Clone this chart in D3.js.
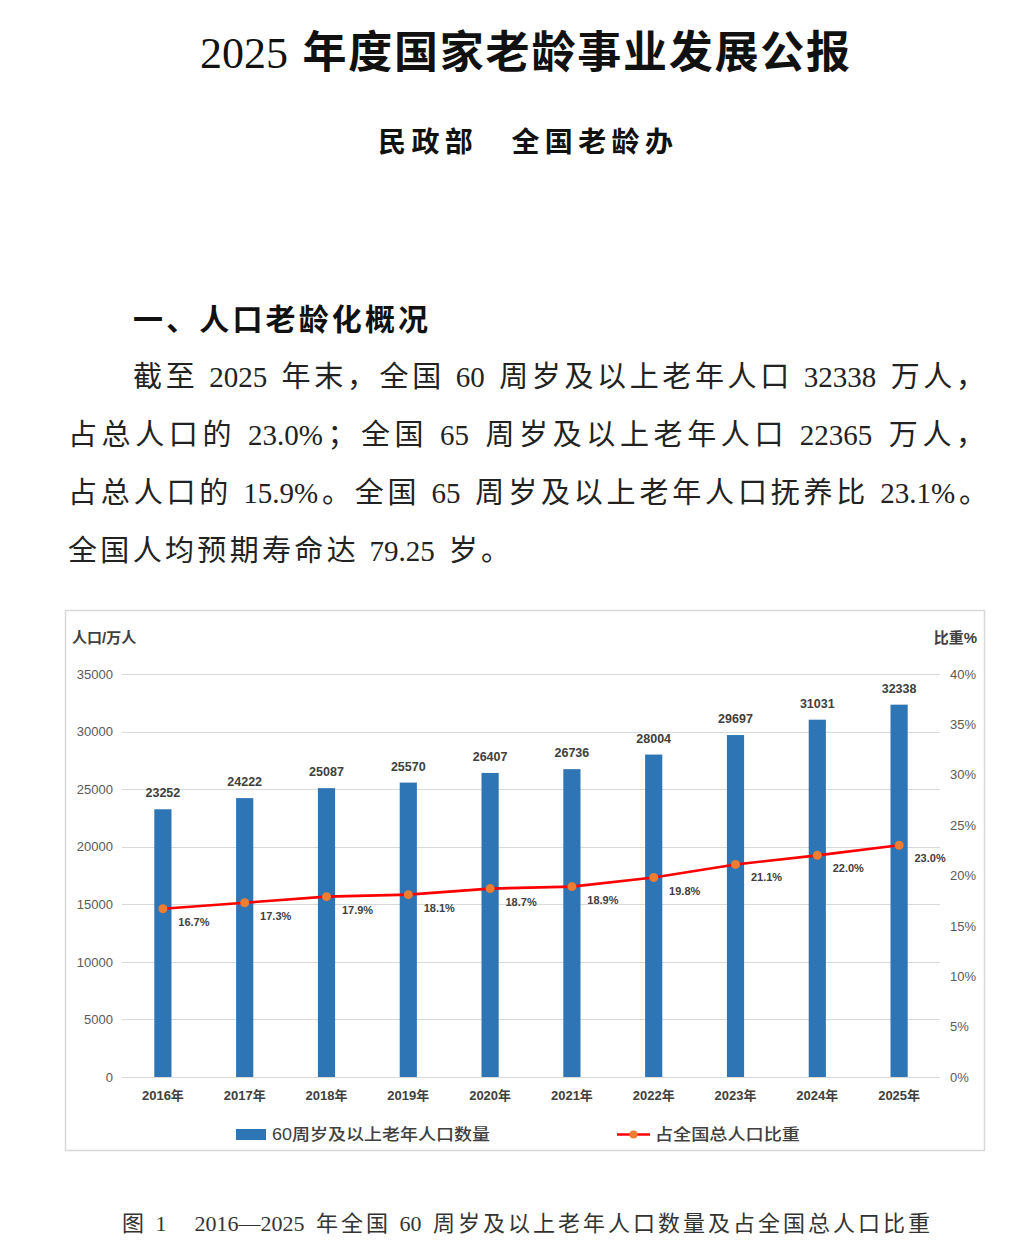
<!DOCTYPE html>
<html>
<head>
<meta charset="utf-8">
<script src="https://cdn.jsdelivr.net/npm/d3@7"></script>
<style>
  html, body { margin: 0; padding: 0; background: #fff; }
  svg { display: block; }
</style>
</head>
<body>
<div id="page"></div>
<script>
// Chart data
const years = ['2016年', '2017年', '2018年', '2019年', '2020年', '2021年', '2022年', '2023年', '2024年', '2025年'];
const popValues = [23252, 24222, 25087, 25570, 26407, 26736, 28004, 29697, 31031, 32338];
const ratioValues = [16.7, 17.3, 17.9, 18.1, 18.7, 18.9, 19.8, 21.1, 22.0, 23.0];
const leftTicks = [0, 5000, 10000, 15000, 20000, 25000, 30000, 35000];
const rightTicks = [0, 5, 10, 15, 20, 25, 30, 35, 40];
const legendLabels = ['60周岁及以上老年人口数量', '占全国总人口比重'];

// Page text
const paragraph = [
    '截至 2025 年末，全国 60 周岁及以上老年人口 32338 万人，',
    '占总人口的 23.0%；全国 65 周岁及以上老年人口 22365 万人，',
    '占总人口的 15.9%。全国 65 周岁及以上老年人口抚养比 23.1%。',
    '全国人均预期寿命达 79.25 岁。'
];

const W = 1017, H = 1256;
const BAR_COLOR = '#2e75b6';
const LINE_COLOR = '#ff0000';
const DOT_COLOR = '#ed7d31';
const GRID = '#d9d9d9';
const SERIF = '"Liberation Serif", "Times New Roman", "Noto Sans CJK SC", serif';
const SANS = '"Liberation Sans", Arial, "Noto Sans CJK SC", sans-serif';

const svg = d3.select('#page').append('svg')
    .attr('width', W)
    .attr('height', H);

// One line of mixed CJK/Latin text spread over a fixed width,
// Latin runs kept whole (like justified Chinese typesetting).
function justify(str, x0, y, width, fontSize, opts = {}) {
    const tokens = str.match(/[\x21-\x7e\u2014]+|\s+|\S/g);
    const text = svg.append('text')
        .attr('y', y)
        .style('font-family', opts.family || SERIF)
        .style('font-size', fontSize + 'px')
        .style('font-weight', opts.weight || 400)
        .style('fill', opts.fill || '#222')
        .style('white-space', 'pre');
    const items = tokens.map(t => {
        const span = text.append('tspan').text(t);
        if (/^\s+$/.test(t)) {
            const w = [...t].reduce((s, c) => s + (c === '\u3000' ? fontSize : fontSize * 0.25), 0);
            return { span, w };
        }
        if (opts.latinWeight && /^[\x21-\x7e]+$/.test(t)) span.style('font-weight', opts.latinWeight);
        return { span, w: span.node().getComputedTextLength() };
    });
    const total = d3.sum(items, d => d.w);
    const gap = items.length > 1 ? (width - total) / (items.length - 1) : 0;
    let cx = x0;
    items.forEach(it => {
        it.span.attr('x', cx);
        cx += it.w + gap;
    });
}

// --- Document header ---
justify('2025 年度国家老龄事业发展公报', 200, 68, 650, 44, { weight: 700, latinWeight: 400, fill: '#111' });
justify('民政部　全国老龄办', 378, 152, 295, 28, { weight: 700, fill: '#111' });
justify('一、人口老龄化概况', 133, 330, 295, 30, { weight: 700, fill: '#111' });

const paraLayout = [
    { x: 133, y: 387, len: 852 },
    { x: 68, y: 445, len: 917 },
    { x: 68, y: 503, len: 920 },
    { x: 68, y: 561, len: 442 }
];
paragraph.forEach((line, i) => {
    const p = paraLayout[i];
    justify(line, p.x, p.y, p.len, 29, { fill: '#222' });
});

// --- Chart frame ---
svg.append('rect')
    .attr('x', 65.5).attr('y', 610.5)
    .attr('width', 919).attr('height', 540)
    .style('fill', '#fff').style('stroke', GRID).style('stroke-width', 1.5);

const plot = { left: 122, right: 940, top: 674, bottom: 1077 };

const x = d3.scaleBand()
    .domain(years)
    .range([plot.left, plot.right])
    .paddingInner(0.79)
    .paddingOuter(0.395);

const yLeft = d3.scaleLinear().domain([0, 35000]).range([plot.bottom, plot.top]);
const yRight = d3.scaleLinear().domain([0, 40]).range([plot.bottom, plot.top]);

const g = svg.append('g').style('font-family', SANS);

// Gridlines
g.append('g')
    .selectAll('line')
    .data(leftTicks)
    .join('line')
    .attr('x1', plot.left).attr('x2', plot.right)
    .attr('y1', d => Math.round(yLeft(d)) + 0.5)
    .attr('y2', d => Math.round(yLeft(d)) + 0.5)
    .style('stroke', GRID).style('stroke-width', 1.2);

// Left axis
const leftAxis = g.append('g')
    .attr('transform', `translate(${plot.left - 9},0)`)
    .call(d3.axisLeft(yLeft).tickValues(leftTicks).tickSize(0).tickPadding(0).tickFormat(d3.format('d')));
leftAxis.select('.domain').remove();
leftAxis.selectAll('text')
    .style('font-size', '13px').style('fill', '#595959')
    .style('font-family', SANS);

// Right axis
const rightAxis = g.append('g')
    .attr('transform', `translate(${plot.right + 10},0)`)
    .call(d3.axisRight(yRight).tickValues(rightTicks).tickSize(0).tickPadding(0).tickFormat(d => d + '%'));
rightAxis.select('.domain').remove();
rightAxis.selectAll('text')
    .style('font-size', '13px').style('fill', '#595959')
    .style('font-family', SANS);

// Category axis labels
const xAxis = g.append('g')
    .attr('transform', `translate(0,${plot.bottom + 11})`)
    .call(d3.axisBottom(x).tickSize(0).tickPadding(0));
xAxis.select('.domain').remove();
xAxis.selectAll('text')
    .attr('dy', '0.9em')
    .style('font-family', SANS)
    .style('font-size', '13px').style('font-weight', '700').style('fill', '#404040');

// Axis titles
g.append('text')
    .attr('x', 72).attr('y', 643)
    .style('font-size', '15px').style('font-weight', '700').style('fill', '#404040')
    .text('人口/万人');
g.append('text')
    .attr('x', 977).attr('y', 643)
    .attr('text-anchor', 'end')
    .style('font-size', '15px').style('font-weight', '700').style('fill', '#404040')
    .text('比重%');

// Bars
g.append('g')
    .selectAll('rect')
    .data(years)
    .join('rect')
    .attr('x', d => x(d))
    .attr('y', (d, i) => yLeft(popValues[i]))
    .attr('width', x.bandwidth())
    .attr('height', (d, i) => plot.bottom - yLeft(popValues[i]))
    .style('fill', BAR_COLOR);

// Bar value labels
g.append('g')
    .selectAll('text')
    .data(years)
    .join('text')
    .attr('x', d => x(d) + x.bandwidth() / 2)
    .attr('y', (d, i) => yLeft(popValues[i]) - 12)
    .attr('text-anchor', 'middle')
    .style('font-size', '12.5px').style('font-weight', '700').style('fill', '#404040')
    .text((d, i) => popValues[i]);

// Ratio line
const cx = d => x(d) + x.bandwidth() / 2;
const line = d3.line()
    .x(d => cx(d))
    .y((d, i) => yRight(ratioValues[i]));

g.append('path')
    .datum(years)
    .attr('d', line)
    .style('fill', 'none')
    .style('stroke', LINE_COLOR)
    .style('stroke-width', 2.6)
    .style('stroke-linejoin', 'round');

g.append('g')
    .selectAll('circle')
    .data(years)
    .join('circle')
    .attr('cx', d => cx(d))
    .attr('cy', (d, i) => yRight(ratioValues[i]))
    .attr('r', 4.5)
    .style('fill', DOT_COLOR);

// Ratio labels
g.append('g')
    .selectAll('text')
    .data(years)
    .join('text')
    .attr('x', d => cx(d) + 31)
    .attr('y', (d, i) => yRight(ratioValues[i]) + 17)
    .attr('text-anchor', 'middle')
    .style('font-size', '11px').style('font-weight', '700').style('fill', '#404040')
    .text((d, i) => ratioValues[i].toFixed(1) + '%');

// Legend
const legend = g.append('g');
legend.append('rect')
    .attr('x', 236).attr('y', 1129)
    .attr('width', 30).attr('height', 11)
    .style('fill', BAR_COLOR);
legend.append('text')
    .attr('x', 272).attr('y', 1140)
    .attr('textLength', 218).attr('lengthAdjust', 'spacingAndGlyphs')
    .style('font-size', '16px').style('font-weight', '500').style('fill', '#404040')
    .text(legendLabels[0]);
legend.append('line')
    .attr('x1', 617).attr('x2', 650)
    .attr('y1', 1134.5).attr('y2', 1134.5)
    .style('stroke', LINE_COLOR).style('stroke-width', 2.6);
legend.append('circle')
    .attr('cx', 633.5).attr('cy', 1134.5).attr('r', 4)
    .style('fill', DOT_COLOR);
legend.append('text')
    .attr('x', 655).attr('y', 1140)
    .attr('textLength', 145).attr('lengthAdjust', 'spacingAndGlyphs')
    .style('font-size', '16px').style('font-weight', '500').style('fill', '#404040')
    .text(legendLabels[1]);

// Caption
justify('图 1　2016—2025 年全国 60 周岁及以上老年人口数量及占全国总人口比重', 122, 1231, 808, 22, { fill: '#333' });
</script>
</body>
</html>
